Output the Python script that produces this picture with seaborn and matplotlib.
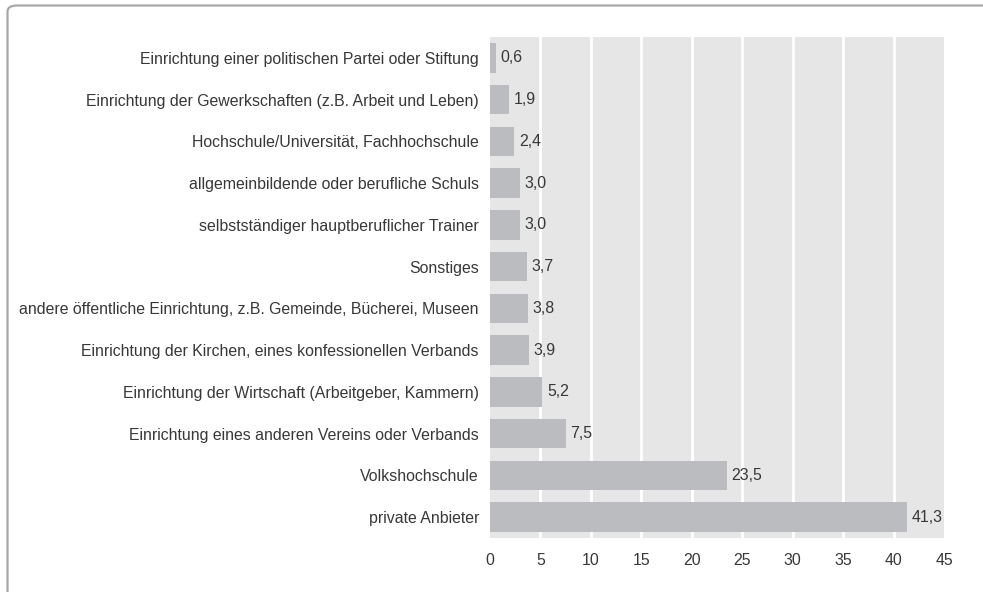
import matplotlib
matplotlib.use("Agg")
import matplotlib.pyplot as plt
import seaborn as sns
import pandas as pd
from matplotlib.patches import FancyBboxPatch

# Data
categories = [
    "Einrichtung einer politischen Partei oder Stiftung",
    "Einrichtung der Gewerkschaften (z.B. Arbeit und Leben)",
    "Hochschule/Universität, Fachhochschule",
    "allgemeinbildende oder berufliche Schuls",
    "selbstständiger hauptberuflicher Trainer",
    "Sonstiges",
    "andere öffentliche Einrichtung, z.B. Gemeinde, Bücherei, Museen",
    "Einrichtung der Kirchen, eines konfessionellen Verbands",
    "Einrichtung der Wirtschaft (Arbeitgeber, Kammern)",
    "Einrichtung eines anderen Vereins oder Verbands",
    "Volkshochschule",
    "private Anbieter",
]
values = [0.6, 1.9, 2.4, 3.0, 3.0, 3.7, 3.8, 3.9, 5.2, 7.5, 23.5, 41.3]
x_ticks = [0, 5, 10, 15, 20, 25, 30, 35, 40, 45]

df = pd.DataFrame({"kategorie": categories, "wert": values})

sns.set_style("white")
plt.rcParams["font.family"] = ["Liberation Sans", "DejaVu Sans"]

text_color = "#383838"
bar_color = "#bbbcbf"
panel_color = "#e6e6e6"
fs = 11.4

fig = plt.figure(figsize=(9.83, 5.92), dpi=100)
ax = fig.add_axes([0.4985, 0.0912, 0.4618, 0.8463])

sns.barplot(data=df, x="wert", y="kategorie", orient="h", color=bar_color,
            width=0.71, saturation=1, linewidth=0, ax=ax, zorder=3)

ax.set_facecolor(panel_color)
ax.set_xlim(0, 45)
ax.set_ylim(11.5, -0.5)
ax.set_xticks(x_ticks)
ax.set_xticklabels([str(t) for t in x_ticks])
for t in x_ticks[1:-1]:
    ax.axvline(t, color="white", linewidth=2, zorder=1)
ax.grid(False)
for s in ax.spines.values():
    s.set_visible(False)
ax.tick_params(axis="both", length=0, labelsize=fs, colors=text_color)
ax.tick_params(axis="y", pad=8)
ax.tick_params(axis="x", pad=11)
ax.set_xlabel("")
ax.set_ylabel("")

for i, v in enumerate(values):
    ax.text(v + 0.45, i, f"{v:.1f}".replace(".", ","), va="center", ha="left",
            fontsize=fs, color=text_color, zorder=4)

# outer frame (rounded top-left corner, open to the right and bottom)
frame = FancyBboxPatch((7.5 / 983, -0.2), 1.2, 1.2 - 5.5 / 592,
                       boxstyle="round,pad=0,rounding_size=0.01",
                       transform=fig.transFigure, fill=False,
                       edgecolor="#a8a8a8", linewidth=1.6, zorder=0)
fig.patches.append(frame)

fig.savefig("out.png", dpi=100)
